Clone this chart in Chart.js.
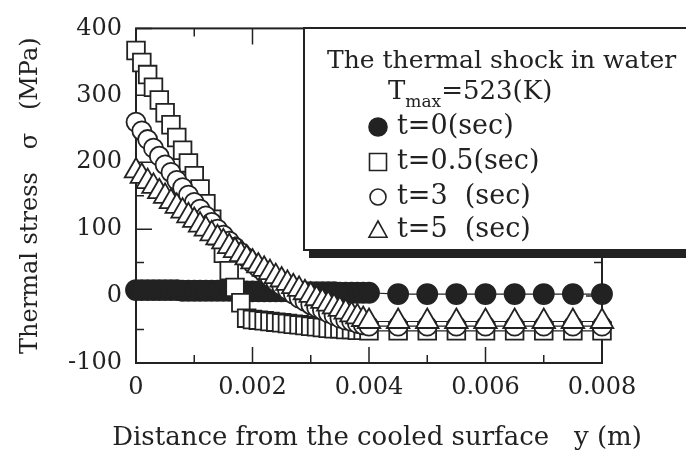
<!DOCTYPE html>
<html>
<head>
<meta charset="utf-8">
<script src="https://cdn.jsdelivr.net/npm/chart.js@4.4.0/dist/chart.umd.min.js"></script>
<style>
  html, body { margin: 0; padding: 0; background: #fff; }
  #wrap { width: 686px; height: 459px; }
</style>
</head>
<body>
<div id="wrap"><canvas id="stressChart" width="686" height="459"></canvas></div>
<script>
// distance from the cooled surface y (m): fine mesh up to 4 mm, coarse beyond
const depth = [
  0, 0.0001, 0.0002, 0.0003, 0.0004, 0.0005, 0.0006, 0.0007, 0.0008, 0.0009,
  0.001, 0.0011, 0.0012, 0.0013, 0.0014, 0.0015, 0.0016, 0.0017, 0.0018, 0.0019,
  0.002, 0.0021, 0.0022, 0.0023, 0.0024, 0.0025, 0.0026, 0.0027, 0.0028, 0.0029,
  0.003, 0.0031, 0.0032, 0.0033, 0.0034, 0.0035, 0.0036, 0.0037, 0.0038, 0.0039,
  0.004, 0.0045, 0.005, 0.0055, 0.006, 0.0065, 0.007, 0.0075, 0.008
];

// thermal stress sigma (MPa) at each depth
const stressT0 = [
  9, 9, 9, 9, 9, 9, 9, 9, 8, 8,
  8, 8, 8, 8, 8, 8, 8, 8, 7, 7,
  7, 7, 7, 7, 7, 7, 7, 6, 6, 6,
  6, 6, 6, 6, 6, 5, 5, 5, 5, 5,
  5, 3, 3, 3, 3, 3, 3, 3, 3
];
const stressT05 = [
  367, 349, 331, 312, 293, 274, 256, 237, 218, 199,
  180, 160, 138, 115, 90, 64, 38, 13, -10, -33,
  -35, -36, -37, -38, -39, -40, -41, -42, -43, -44,
  -45, -46, -47, -48, -49, -49, -50, -50, -51, -51,
  -52, -52, -52, -52, -52, -52, -52, -52, -52
];
const stressT3 = [
  260, 247, 234, 221, 209, 196, 185, 173, 162, 151,
  140, 130, 120, 110, 100, 91, 82, 73, 65, 57,
  49, 42, 35, 28, 21, 15, 9, 3, -3, -8,
  -13, -17, -21, -25, -29, -33, -36, -38, -41, -43,
  -45, -45, -45, -45, -45, -45, -45, -45, -45
];
const stressT5 = [
  187, 179, 171, 164, 156, 149, 141, 134, 127, 120,
  113, 106, 100, 93, 87, 81, 74, 68, 62, 57,
  51, 45, 40, 35, 29, 24, 19, 14, 10, 5,
  1, -4, -8, -12, -16, -20, -24, -28, -31, -35,
  -38, -38, -38, -38, -38, -38, -38, -38, -38
];

const seriesLabels = ['t=0(sec)', 't=0.5(sec)', 't=3  (sec)', 't=5  (sec)'];
const xTickLabels = ['0', '0.002', '0.004', '0.006', '0.008'];
const yTickLabels = ['-100', '0', '100', '200', '300', '400'];
const xTitle = 'Distance from the cooled surface   y (m)';

const INK = '#222';
const FONT = 'DejaVu Serif';

function points(values) {
    return depth.map((d, i) => ({ x: d, y: values[i] }));
}

function isMultiple(v, step) {
    return Math.abs(v / step - Math.round(v / step)) < 1e-6;
}

// closed frame with inward ticks on all four sides
const framePlugin = {
    id: 'frame',
    beforeDatasetsDraw(chart) {
        const { ctx, chartArea: a, scales: { x, y } } = chart;
        ctx.save();
        ctx.strokeStyle = INK;
        ctx.lineWidth = 1.5;
        ctx.beginPath();
        x.ticks.forEach(t => {
            const px = x.getPixelForValue(t.value);
            const len = isMultiple(t.value, 0.002) ? 16 : 8;
            ctx.moveTo(px, a.bottom);
            ctx.lineTo(px, a.bottom - len);
            ctx.moveTo(px, a.top);
            ctx.lineTo(px, a.top + len);
        });
        y.ticks.forEach(t => {
            const py = y.getPixelForValue(t.value);
            const len = isMultiple(t.value, 100) ? 16 : 8;
            ctx.moveTo(a.left, py);
            ctx.lineTo(a.left + len, py);
            ctx.moveTo(a.right, py);
            ctx.lineTo(a.right - len, py);
        });
        ctx.stroke();
        ctx.lineWidth = 2;
        ctx.strokeRect(a.left, a.top, a.right - a.left, a.bottom - a.top);

        // x axis title runs wider than the plot, so it is set here
        ctx.fillStyle = INK;
        ctx.font = `26px "${FONT}"`;
        ctx.textAlign = 'center';
        ctx.textBaseline = 'middle';
        ctx.fillText(xTitle, (a.left + a.right) / 2 + 8, 438);
        ctx.restore();
    }
};

function drawMarker(ctx, style, cx, cy, r, filled) {
    ctx.beginPath();
    if (style === 'circle') {
        ctx.arc(cx, cy, r, 0, Math.PI * 2);
    } else if (style === 'rect') {
        ctx.rect(cx - r, cy - r, 2 * r, 2 * r);
    } else {
        ctx.moveTo(cx, cy - r);
        ctx.lineTo(cx + r, cy + r * 0.8);
        ctx.lineTo(cx - r, cy + r * 0.8);
        ctx.closePath();
    }
    ctx.fillStyle = filled ? INK : '#fff';
    ctx.fill();
    ctx.stroke();
}

// boxed legend with a drop shadow, title and T_max line
const legendPlugin = {
    id: 'boxLegend',
    afterDraw(chart) {
        const ctx = chart.ctx;
        const box = { left: 304, top: 28, right: 700, bottom: 250 };
        ctx.save();
        ctx.fillStyle = INK;
        ctx.fillRect(box.left + 5, box.bottom, box.right - box.left, 8);
        ctx.fillStyle = '#fff';
        ctx.fillRect(box.left, box.top, box.right - box.left, box.bottom - box.top);
        ctx.strokeStyle = INK;
        ctx.lineWidth = 2;
        ctx.strokeRect(box.left, box.top, box.right - box.left, box.bottom - box.top);

        ctx.fillStyle = INK;
        ctx.textBaseline = 'alphabetic';
        ctx.textAlign = 'left';
        ctx.font = `25px "${FONT}"`;
        ctx.fillText('The thermal shock in water', 327, 68);

        ctx.font = `26px "${FONT}"`;
        ctx.fillText('T', 388, 99);
        const tW = ctx.measureText('T').width;
        ctx.font = `17px "${FONT}"`;
        ctx.fillText('max', 388 + tW, 107);
        const mW = ctx.measureText('max').width;
        ctx.font = `26px "${FONT}"`;
        ctx.fillText('=523(K)', 388 + tW + mW, 99);

        const rows = [127, 162, 197, 230];
        const styles = [['circle', 9, true], ['rect', 8.5, false], ['circle', 8, false], ['triangle', 9, false]];
        ctx.lineWidth = 1.6;
        rows.forEach((ry, i) => {
            const [st, r, filled] = styles[i];
            ctx.strokeStyle = INK;
            drawMarker(ctx, st, 378, ry, r, filled);
            ctx.fillStyle = INK;
            ctx.font = `27px "${FONT}"`;
            ctx.textBaseline = 'middle';
            ctx.fillText(seriesLabels[i], 397, ry);
        });
        ctx.restore();
    }
};

const common = {
    showLine: true,
    borderColor: INK,
    borderWidth: 1.2,
    pointBorderColor: INK,
    pointBorderWidth: 1.8,
    pointBackgroundColor: '#fff',
    clip: false,
    tension: 0
};

new Chart(document.getElementById('stressChart'), {
    type: 'line',
    data: {
        datasets: [
            Object.assign({}, common, {
                label: seriesLabels[0], data: points(stressT0), order: 4,
                pointStyle: 'circle', pointRadius: 10, pointBackgroundColor: INK
            }),
            Object.assign({}, common, {
                label: seriesLabels[1], data: points(stressT05), order: 3,
                pointStyle: 'rect', pointRadius: 12.5
            }),
            Object.assign({}, common, {
                label: seriesLabels[2], data: points(stressT3), order: 2,
                pointStyle: 'circle', pointRadius: 9.5
            }),
            Object.assign({}, common, {
                label: seriesLabels[3], data: points(stressT5), order: 1,
                pointStyle: 'triangle', pointRadius: 13
            })
        ]
    },
    options: {
        responsive: false,
        animation: false,
        devicePixelRatio: 1,
        layout: { padding: { top: 14, right: 84, left: 0, bottom: 0 } },
        plugins: {
            legend: { display: false },
            tooltip: { enabled: false }
        },
        scales: {
            x: {
                type: 'linear',
                min: 0,
                max: 0.008,
                grid: { display: false, drawTicks: false },
                border: { display: false },
                ticks: {
                    stepSize: 0.001,
                    autoSkip: false,
                    maxRotation: 0,
                    padding: 10,
                    color: INK,
                    font: { family: FONT, size: 24 },
                    callback: v => isMultiple(v, 0.002) ? xTickLabels[Math.round(v / 0.002)] : ''
                },
                afterFit(scale) { scale.height = 96; }
            },
            y: {
                min: -100,
                max: 400,
                grid: { display: false, drawTicks: false },
                border: { display: false },
                ticks: {
                    stepSize: 50,
                    autoSkip: false,
                    padding: 14,
                    color: INK,
                    font: { family: FONT, size: 24 },
                    callback: v => isMultiple(v, 100) ? yTickLabels[Math.round(v / 100) + 1] : ''
                },
                title: {
                    display: true,
                    text: 'Thermal stress   σ   (MPa)',
                    color: INK,
                    font: { family: FONT, size: 24 },
                    padding: { top: 16, bottom: 0 }
                },
                afterFit(scale) { scale.width = 136; }
            }
        }
    },
    plugins: [framePlugin, legendPlugin]
});
</script>
</body>
</html>
